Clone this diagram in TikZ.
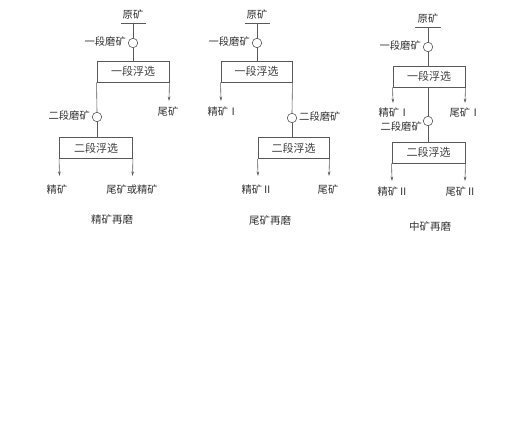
\documentclass[tikz,border=0pt]{standalone}
\usepackage{fontspec}
\newfontfamily\cjk{Noto Sans CJK SC}
\usetikzlibrary{arrows.meta}
\begin{document}
\begin{tikzpicture}[x=1pt,y=-1pt,
  ln/.style={draw=black!65, line width=0.6pt},
  arr/.style={ln, -{Stealth[length=4.5pt,width=2.6pt]}},
  mill/.style={circle, draw=black!65, line width=0.6pt, minimum size=9.5pt, inner sep=0pt},
  cell/.style={draw=black!65, line width=0.9pt, minimum width=72pt, minimum height=21pt, inner sep=0pt, font=\cjk\fontsize{11}{12}\selectfont, text=black!75},
  lbl/.style={font=\cjk\fontsize{10.3}{11}\selectfont, text=black!80, inner sep=1pt},
  captext/.style={font=\cjk\fontsize{10.5}{11}\selectfont, text=black!80, inner sep=1pt}]
\useasboundingbox (0,0) rectangle (508,446);
\fill[white] (0,0) rectangle (508,446);

% ---------- Diagram 1 ----------
\node[lbl] (fa) at (133,15) {原矿};
\coordinate (fa1) at (121,23); \coordinate (fa2) at (146,23); \coordinate (fa0) at (133,23);
\draw[ln] (fa1) -- (fa2);
\node[mill] (ma1) at (133,43) {};
\node[lbl, anchor=east] (la1) at (127,42) {一段磨矿};
\node[cell] (ca1) at (133,71.5) {一段浮选};
\draw[ln] (fa0) -- (ma1);
\draw[ln] (ma1) -- (ca1);
\node[mill] (ma2) at (97,117) {};
\node[lbl, anchor=east] (la2) at (91,116) {二段磨矿};
\draw[ln] (ca1.south west) -- (ma2.north);
\coordinate (ta1) at (169,101);
\draw[arr] (ca1.south east) -- (ta1);
\node[lbl] (tl1) at (168,112) {尾矿};
\node[cell, minimum width=73pt] (ca2) at (96,148) {二段浮选};
\draw[ln] (ma2) -- (ma2 |- ca2.north);
\coordinate (ea1) at (59.5,176); \coordinate (ea2) at (132.5,176);
\draw[arr] (ca2.south west) -- (ea1);
\draw[arr] (ca2.south east) -- (ea2);
\node[lbl] (pa1) at (57,190) {精矿};
\node[lbl] (pa2) at (132,190) {尾矿或精矿};
\node[captext] (capa) at (112,219) {精矿再磨};

% ---------- Diagram 2 ----------
\node[lbl] (fb) at (257,15) {原矿};
\coordinate (fb1) at (245,23); \coordinate (fb2) at (270,23); \coordinate (fb0) at (257,23);
\draw[ln] (fb1) -- (fb2);
\node[mill] (mb1) at (257,43) {};
\node[lbl, anchor=east] (lb1) at (251,42) {一段磨矿};
\node[cell, minimum width=71pt] (cb1) at (256.5,71.5) {一段浮选};
\draw[ln] (fb0) -- (mb1);
\draw[ln] (mb1) -- (mb1 |- cb1.north);
\coordinate (eb1) at (221,101);
\draw[arr] (cb1.south west) -- (eb1);
\node[lbl] (pb1) at (223,112) {精矿Ⅰ};
\node[mill] (mb2) at (292,118) {};
\node[lbl, anchor=west] (lb2) at (298,117) {二段磨矿};
\draw[ln] (cb1.south east) -- (mb2.north);
\node[cell, minimum width=71pt] (cb2) at (293.5,148) {二段浮选};
\draw[ln] (mb2) -- (mb2 |- cb2.north);
\coordinate (eb2) at (258,176); \coordinate (eb3) at (329,176);
\draw[arr] (cb2.south west) -- (eb2);
\draw[arr] (cb2.south east) -- (eb3);
\node[lbl] (pb2) at (257,190) {精矿Ⅱ};
\node[lbl] (pb3) at (328,190) {尾矿};
\node[captext] (capb) at (270,220) {尾矿再磨};

% ---------- Diagram 3 ----------
\node[lbl] (fc) at (428,19) {原矿};
\coordinate (fc1) at (415,27); \coordinate (fc2) at (441,27); \coordinate (fc0) at (428,27);
\draw[ln] (fc1) -- (fc2);
\node[mill] (mc1) at (428,47) {};
\node[lbl, anchor=east] (lc1) at (422,46) {一段磨矿};
\node[cell] (cc1) at (429,76.5) {一段浮选};
\draw[ln] (fc0) -- (mc1);
\draw[ln] (mc1) -- (mc1 |- cc1.north);
\coordinate (ec1) at (393,103); \coordinate (ec2) at (465,103);
\draw[arr] (cc1.south west) -- (ec1);
\draw[arr] (cc1.south east) -- (ec2);
\node[lbl] (pc1) at (394,113) {精矿Ⅰ};
\node[lbl] (pc2) at (465,113) {尾矿Ⅰ};
\node[mill] (mc2) at (428,121) {};
\node[lbl, anchor=east] (lc2) at (423,127) {二段磨矿};
\draw[ln] (mc2 |- cc1.south) -- (mc2);
\node[cell, minimum width=73pt] (cc2) at (428.5,152.5) {二段浮选};
\draw[ln] (mc2) -- (mc2 |- cc2.north);
\coordinate (ec3) at (392,181); \coordinate (ec4) at (465,181);
\draw[arr] (cc2.south west) -- (ec3);
\draw[arr] (cc2.south east) -- (ec4);
\node[lbl] (pc3) at (393,192) {精矿Ⅱ};
\node[lbl] (pc4) at (461,192) {尾矿Ⅱ};
\node[captext] (capc) at (430,226) {中矿再磨};
\end{tikzpicture}
\end{document}
